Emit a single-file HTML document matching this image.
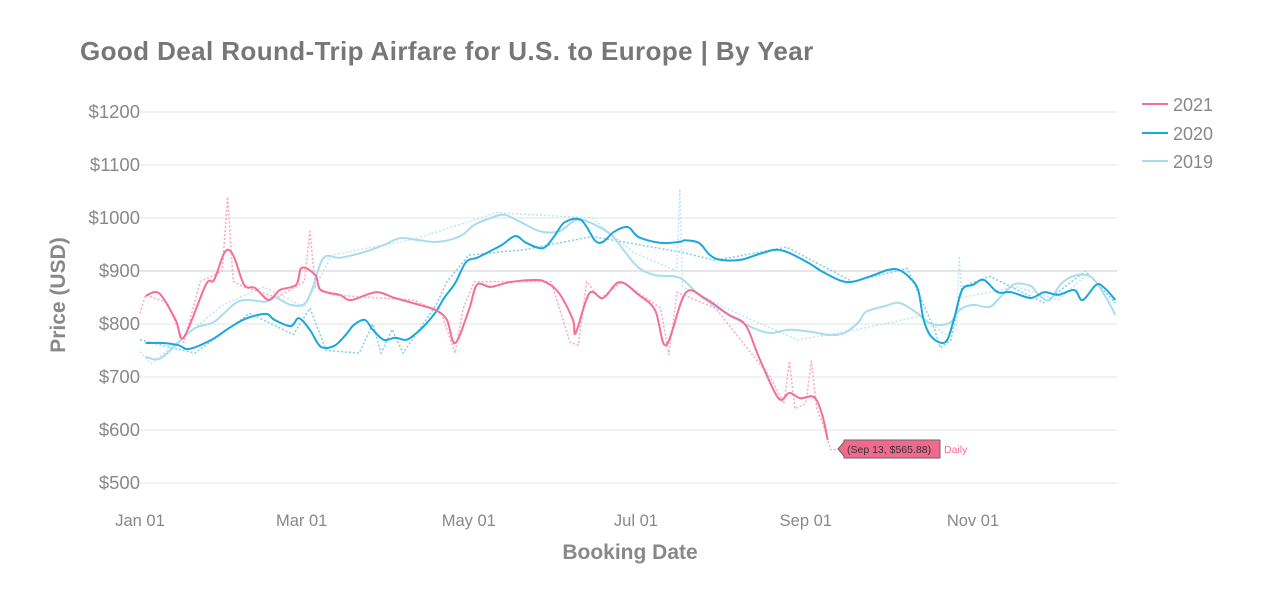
<!DOCTYPE html>
<html><head><meta charset="utf-8">
<style>
body{margin:0;background:#fff;width:1264px;height:602px;overflow:hidden;font-family:"Liberation Sans",sans-serif;}
svg{display:block}
</style></head>
<body>
<svg id="chart" width="1264" height="602">
<text x="80" y="60" font-size="26" font-weight="bold" letter-spacing="0.4" fill="#777">Good Deal Round-Trip Airfare for U.S. to Europe | By Year</text>
<g id="grid"></g><g id="series"></g>
<text x="0" y="0" transform="translate(65,295) rotate(-90)" text-anchor="middle" font-size="21" font-weight="bold" fill="#888">Price (USD)</text>
<text x="630" y="559" text-anchor="middle" font-size="21" font-weight="bold" fill="#888">Booking Date</text>
<g>
<g><line x1="1142" y1="104" x2="1168" y2="104" stroke="#f46f93" stroke-width="2"/><text x="1173" y="111" font-size="18" fill="#888">2021</text></g>
<g><line x1="1142" y1="133" x2="1168" y2="133" stroke="#1aa7dc" stroke-width="2"/><text x="1173" y="140" font-size="18" fill="#888">2020</text></g>
<g><line x1="1142" y1="161" x2="1168" y2="161" stroke="#a8ddf1" stroke-width="2"/><text x="1173" y="168" font-size="18" fill="#888">2019</text></g>
</g>
<g>
<polygon points="838,449 844,442 844,440 940,440 940,458 844,458 844,456" fill="#ee6a8f" stroke="#666" stroke-width="1"/>
<text x="847" y="453" font-size="10.5" fill="#333">(Sep 13, $565.88)</text>
<text x="944" y="453" font-size="10.5" fill="#f46f93">Daily</text>
</g>
</svg>
<script>
const yTicks=[500,600,700,800,900,1000,1100,1200];
const xTickDays=[0,59,120,181,243,304];
const xTickLabels=["Jan 01","Mar 01","May 01","Jul 01","Sep 01","Nov 01"];
const days2021=[2,7,13,16,24,27,31,34,38,42,47,51,57,59,64,66,73,77,86,93,102,108,112,115,120,123,128,135,144,148,153,158,159,164,169,175,182,188,192,199,206,215,221,226,233,237,241,246,249,251];
const vals2021=[853,858,808,775,874,883,936,930,874,868,845,864,874,906,892,864,855,845,860,849,836,826,808,764,826,874,870,879,883,879,858,808,783,858,849,879,855,826,760,858,849,817,798,736,660,670,660,662,628,581];
const days2020=[2,9,14,18,26,33,39,46,49,55,58,62,66,71,75,78,82,85,89,93,97,100,104,108,111,115,119,123,128,132,137,141,147,151,155,161,166,169,173,178,182,190,197,199,204,208,212,219,226,232,237,244,250,258,266,273,277,281,284,286,289,294,297,300,304,308,313,318,325,330,335,341,344,349,352,356];
const vals2020=[764,764,760,753,770,794,811,819,808,796,811,789,757,759,779,798,808,789,770,774,770,779,798,823,849,877,917,925,938,949,966,953,943,964,992,996,958,955,974,983,964,953,955,958,953,930,921,921,932,940,934,915,896,879,889,902,902,887,864,808,775,766,808,864,874,883,860,860,849,860,855,864,845,874,868,845];
const days2019=[2,7,13,20,27,35,40,46,49,55,60,63,67,73,82,89,95,102,109,117,122,128,133,139,146,153,159,164,172,177,182,188,197,204,212,217,224,230,237,245,252,257,262,265,272,276,279,284,288,292,296,299,304,310,314,319,325,328,332,336,341,347,352,356];
const vals2019=[738,734,760,792,804,840,845,842,851,836,838,868,925,925,936,949,962,958,955,966,987,1000,1006,992,975,975,996,992,968,936,906,892,887,855,826,811,792,783,789,785,779,783,802,823,834,840,836,819,802,798,804,826,836,832,851,875,872,855,845,875,891,889,855,817];
const dDays2021=[0,2,10,16,22,30,32,34,38,50,60,62,64,70,100,110,115,118,122,150,157,160,163,168,176,190,193,196,210,230,235,237,239,243,245,247,250,252,254];
const dVals2021=[820,855,840,765,880,900,1040,880,870,850,880,975,870,855,845,820,745,830,880,880,765,760,880,848,880,830,742,860,830,700,650,730,640,650,730,640,600,563,563];
const dDays2020=[0,20,40,56,62,68,80,85,88,92,96,100,108,112,120,140,150,165,198,210,236,260,280,290,292,296,300,310,330,345,356];
const dVals2020=[770,745,820,780,830,750,745,800,745,790,745,775,835,880,930,940,950,965,935,920,945,880,905,790,755,770,870,890,840,900,840];
const dDays2019=[0,4,30,45,60,70,100,130,165,180,196,197,198,220,240,262,285,294,298,299,300,320,335,346];
const dVals2019=[748,725,835,870,832,930,960,1010,1000,935,900,1055,870,815,770,790,815,780,790,925,850,870,845,895];

const X=d=>140+d*2.74, Y=v=>483-(v-500)*0.53;
const NS="http://www.w3.org/2000/svg";
const grid=document.getElementById('grid'), ser=document.getElementById('series');
yTicks.forEach(v=>{
  const l=document.createElementNS(NS,'line');
  l.setAttribute('x1',140);l.setAttribute('x2',1117);l.setAttribute('y1',Y(v));l.setAttribute('y2',Y(v));
  l.setAttribute('stroke',v===900?'#ccc':'#e3e3e3');l.setAttribute('stroke-width',1);
  
  
  grid.appendChild(l);
  const t=document.createElementNS(NS,'text');
  t.setAttribute('x',140);t.setAttribute('y',Y(v)+6);t.setAttribute('text-anchor','end');
  t.setAttribute('font-size','18.5');t.setAttribute('fill','#888');t.textContent='$'+v;
  
  
  grid.appendChild(t);
});
xTickDays.forEach((d,i)=>{
  const t=document.createElementNS(NS,'text');
  t.setAttribute('x',X(d));t.setAttribute('y',526);t.setAttribute('text-anchor','middle');
  t.setAttribute('font-size','16.5');t.setAttribute('fill','#888');t.textContent=xTickLabels[i];
  
  
  grid.appendChild(t);
});
function path(days,vals,color,w,dash,name,smooth){
  const pts=days.map((d,i)=>[X(d),Y(vals[i])]);
  let d='M'+pts[0][0].toFixed(1)+','+pts[0][1].toFixed(1);
  for(let i=1;i<pts.length;i++){
    if(!smooth){d+='L'+pts[i][0].toFixed(1)+','+pts[i][1].toFixed(1);continue;}
    const p0=pts[i-2]||pts[i-1],p1=pts[i-1],p2=pts[i],p3=pts[i+1]||p2;
    const c1=[p1[0]+(p2[0]-p0[0])/6,p1[1]+(p2[1]-p0[1])/6];
    const c2=[p2[0]-(p3[0]-p1[0])/6,p2[1]-(p3[1]-p1[1])/6];
    d+='C'+c1.map(n=>n.toFixed(1))+' '+c2.map(n=>n.toFixed(1))+' '+p2.map(n=>n.toFixed(1));
  }
  const p=document.createElementNS(NS,'path');
  p.setAttribute('d',d);
  p.setAttribute('fill','none');p.setAttribute('stroke',color);p.setAttribute('stroke-width',w);
  p.setAttribute('stroke-linejoin','round');
  if(dash)p.setAttribute('stroke-dasharray',dash);
  
  
  ser.appendChild(p);
}
path(dDays2019,dVals2019,'#bfe6f5',1.5,'2,2','daily-2019',false);
path(dDays2020,dVals2020,'#7fcdec',1.5,'2,2','daily-2020',false);
path(dDays2021,dVals2021,'#f9a9bf',1.5,'2,2','daily-2021',false);
path(days2019,vals2019,'#a8ddf1',2,null,'line-2019',true);
path(days2020,vals2020,'#1aa7dc',2,null,'line-2020',true);
path(days2021,vals2021,'#f46f93',2,null,'line-2021',true);
</script>
</body></html>
